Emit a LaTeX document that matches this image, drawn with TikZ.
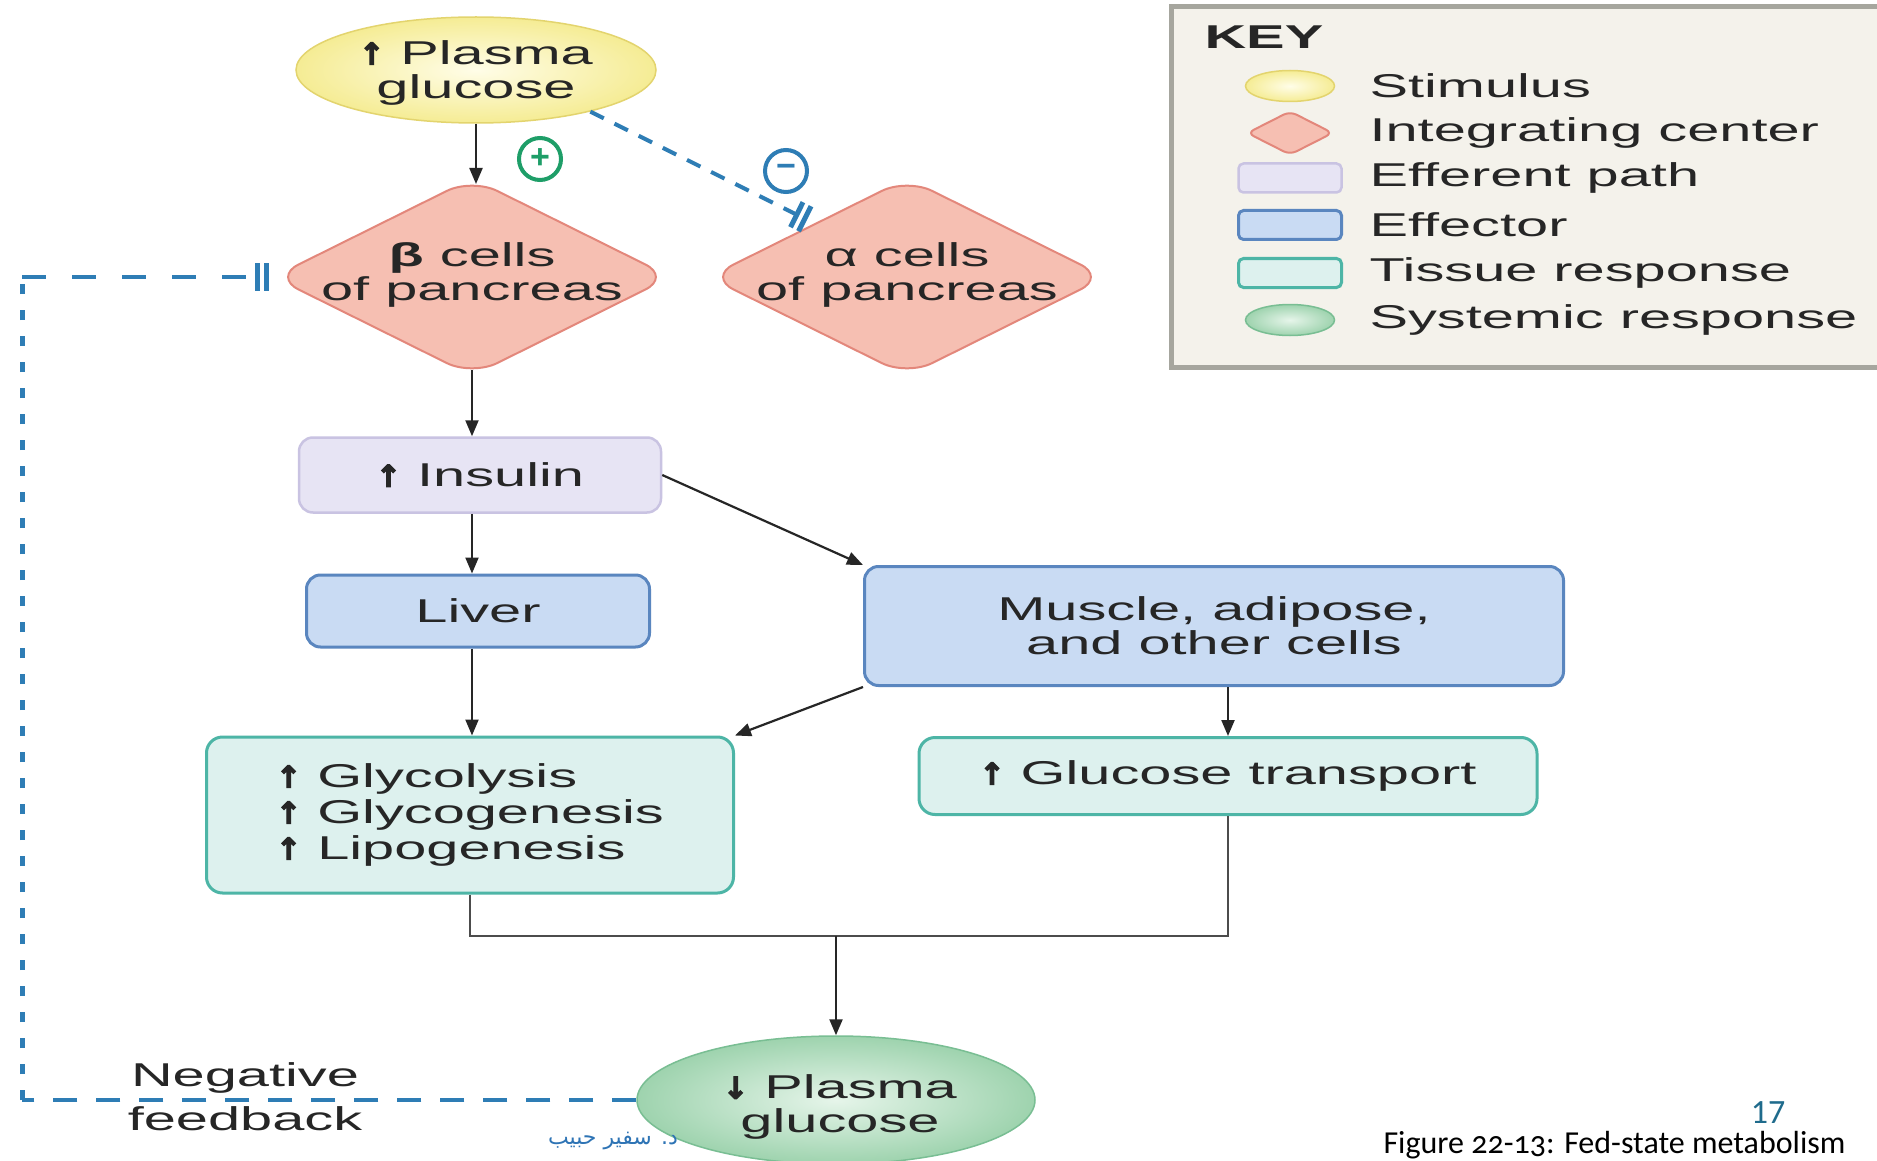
\documentclass[tikz,border=0pt]{standalone}
\usepackage{fontspec}
\setmainfont{Liberation Sans}
\newfontfamily\hv{Liberation Sans}[FakeStretch=1.75]
\newfontfamily\arrfont{DejaVu Sans}[FakeBold=4]
\newfontfamily\calib{Carlito}[Numbers=OldStyle]
\newfontfamily\calibl{Carlito}
\newfontfamily\arabicfont[Script=Arabic]{DejaVu Sans}
\TeXXeTstate=1
\usetikzlibrary{shapes.geometric,arrows.meta,calc}
\definecolor{stimfill}{HTML}{F5EC94}
\definecolor{stimin}{HTML}{FFFDE8}
\definecolor{stimdraw}{HTML}{E3D46E}
\definecolor{icfill}{HTML}{F6BFB2}
\definecolor{icdraw}{HTML}{E3877B}
\definecolor{effill}{HTML}{E7E4F4}
\definecolor{efdraw}{HTML}{C9C3E2}
\definecolor{eofill}{HTML}{C9DBF3}
\definecolor{eodraw}{HTML}{5A86BF}
\definecolor{trfill}{HTML}{DDF1EE}
\definecolor{trdraw}{HTML}{4DB5A6}
\definecolor{srfill}{HTML}{9ED3AE}
\definecolor{srin}{HTML}{E6F5EA}
\definecolor{srdraw}{HTML}{79BE93}
\definecolor{fbblue}{HTML}{2E7DB5}
\definecolor{plusgreen}{HTML}{1E9E68}
\definecolor{keyfill}{HTML}{F4F2EB}
\definecolor{keydraw}{HTML}{A6A69E}
\definecolor{tealnum}{HTML}{1F6B8C}
\definecolor{arabblue}{HTML}{2E74B5}
\newcommand\uparr{{\arrfont\bfseries\fontsize{30}{30}\selectfont ↑}}
\newcommand\dnarr{{\arrfont\bfseries\fontsize{30}{30}\selectfont ↓}}
\begin{document}
\begin{tikzpicture}[x=1pt,y=-1pt,
  txt/.style={font=\hv\fontsize{33}{34}\selectfont, text=black!85, align=center},
  stimnode/.style={ellipse, draw=stimdraw, line width=1.5pt, inner color=stimin, outer color=stimfill, inner sep=0pt, txt},
  sysnode/.style={ellipse, draw=srdraw, line width=1.5pt, inner color=srin, outer color=srfill, inner sep=0pt, txt},
  icnode/.style={diamond, draw=icdraw, fill=icfill, line width=2pt, rounded corners=28pt, inner sep=0pt},
  efbox/.style={rectangle, rounded corners=14pt, draw=efdraw, fill=effill, line width=2.5pt, inner sep=0pt, txt},
  eobox/.style={rectangle, rounded corners=14pt, draw=eodraw, fill=eofill, line width=3pt, inner sep=0pt, txt},
  trbox/.style={rectangle, rounded corners=16pt, draw=trdraw, fill=trfill, line width=3pt, inner sep=0pt, txt},
  arr/.style={draw=black!85, line width=2.2pt, -{Triangle[length=16pt,width=13pt]}},
  merge/.style={draw=black!70, line width=2.5pt},
  inhib/.style={-{Bar[width=28pt,line width=5pt,sep=4pt]Bar[width=28pt,line width=5pt]}},
  fbh/.style={draw=fbblue, line width=4pt, dash pattern=on 24pt off 19pt},
  fbv/.style={draw=fbblue, line width=5pt, dash pattern=on 10pt off 16pt},
  fbd/.style={draw=fbblue, line width=4pt, dash pattern=on 15pt off 12pt},
  sign/.style={circle, line width=4pt, minimum size=42pt, inner sep=0pt, font=\bfseries\fontsize{34}{34}\selectfont}
]
\useasboundingbox (0,0) rectangle (1877,1161);
\clip (0,0) rectangle (1877,1161);
\fill[white] (0,0) rectangle (1877,1161);

% KEY
\node[draw=keydraw, fill=keyfill, line width=5pt, minimum width=731pt, minimum height=361pt, anchor=north west, inner sep=0pt] (key) at (1169,4) {};
\node[txt, font=\hv\bfseries\fontsize{33}{34}\selectfont, anchor=west] (keytitle) at (1201,37) {KEY};
\node[ellipse, minimum width=89pt, minimum height=31pt, draw=stimdraw, line width=1.5pt, inner color=stimin, outer color=stimfill] (k1) at (1290,86) {};
\node[diamond, minimum width=86pt, minimum height=44pt, rounded corners=7pt, draw=icdraw, fill=icfill, line width=2pt, inner sep=0pt] (k2) at (1290,133) {};
\node[rectangle, rounded corners=5pt, minimum width=103pt, minimum height=29pt, draw=efdraw, fill=effill, line width=2.5pt] (k3) at (1290,178) {};
\node[rectangle, rounded corners=5pt, minimum width=103pt, minimum height=29pt, draw=eodraw, fill=eofill, line width=3pt] (k4) at (1290,225) {};
\node[rectangle, rounded corners=5pt, minimum width=103pt, minimum height=29pt, draw=trdraw, fill=trfill, line width=3pt] (k5) at (1290,273) {};
\node[ellipse, minimum width=89pt, minimum height=31pt, draw=srdraw, line width=1.5pt, inner color=srin, outer color=srfill] (k6) at (1290,320) {};
\node[txt, anchor=west] (t1) at (1366,86) {Stimulus};
\node[txt, anchor=west] (t2) at (1366,133) {Integrating center};
\node[txt, anchor=west] (t3) at (1366,178) {Efferent path};
\node[txt, anchor=west] (t4) at (1366,225) {Effector};
\node[txt, anchor=west] (t5) at (1366,273) {Tissue response};
\node[txt, anchor=west] (t6) at (1366,320) {Systemic response};

% main nodes
\node[stimnode, minimum width=360pt, minimum height=106pt] (stim) at (476,70) {};
\node[txt] (stimtxt) at (476,73) {\uparr\ Plasma\\glucose};
\node[icnode, minimum width=398pt, minimum height=198pt] (beta) at (472,277) {};
\node[txt] (betatxt) at (472,275) {{\bfseries β} cells\\of pancreas};
\node[icnode, minimum width=398pt, minimum height=198pt] (alpha) at (907,277) {};
\node[txt] (alphatxt) at (907,275) {α cells\\of pancreas};
\node[sign, draw=plusgreen, text=plusgreen] (plus) at (540,159) {+};
\node[sign, draw=fbblue, text=fbblue] (minus) at (786,171) {−};

\node[efbox, minimum width=362pt, minimum height=75pt] (ins) at (480,475) {\uparr\ Insulin};
\node[eobox, minimum width=343pt, minimum height=72pt] (liver) at (478,611) {Liver};
\node[eobox, minimum width=699pt, minimum height=119pt] (musc) at (1214,626) {Muscle, adipose,\\and other cells};
\node[trbox, minimum width=527pt, minimum height=156pt, align=left, font=\hv\fontsize{33}{36}\selectfont] (tis) at (470,815) {\uparr\ Glycolysis\\\uparr\ Glycogenesis\\\uparr\ Lipogenesis};
\node[trbox, minimum width=618pt, minimum height=77pt] (gt) at (1228,776) {\uparr\ Glucose transport};
\node[sysnode, minimum width=398pt, minimum height=128pt] (sys) at (836,1100) {};
\node[txt] (systxt) at (840,1107) {\dnarr\ Plasma\\glucose};

% connectors
\draw[arr, shorten >=-7pt] (stim.south) -- (stim.south |- beta.north);
\draw[fbd, inhib, shorten >=8pt] (stim.-20) -- (alpha.150);
\draw[arr, shorten <=-7pt] (beta.south) -- (beta.south |- ins.north);
\draw[arr] (beta.south |- ins.south) -- (beta.south |- liver.north);
\draw[arr] (ins.east) -- (musc.north west);
\draw[arr] (beta.south |- liver.south) -- (beta.south |- tis.north);
\draw[arr] (musc.south west) -- (tis.north east);
\draw[arr] (gt.north |- musc.south) -- (gt.north);
\coordinate (mj) at (836,936);
\draw[merge] (tis.south) |- (mj) -| (gt.south);
\draw[arr] (mj) -- (sys.north);

% negative feedback
\coordinate (fbL) at (22,1100);
\draw[fbh] (sys.west) -- (fbL);
\draw[fbv] (fbL) -- (fbL |- beta.west);
\draw[fbh, dash pattern=on 24pt off 26pt, inhib] (fbL |- beta.west) -- ([xshift=-3pt]beta.west);
\node[txt] (neg) at (245,1078) {Negative};
\node[txt] (fbk) at (245,1119) {feedback};

% footer
\node[font=\arabicfont\fontsize{22}{24}\selectfont, text=arabblue] (ar) at (613,1141) {\beginR د. سفير حبيب\endR};
\node[font=\calibl\fontsize{34}{36}\selectfont, text=tealnum] (pg) at (1768,1113) {17};
\node[font=\calib\fontsize{32}{36}\selectfont, anchor=base east] (fig) at (1849,1153) {Figure 22-13: Fed-state metabolism};
\end{tikzpicture}
\end{document}
